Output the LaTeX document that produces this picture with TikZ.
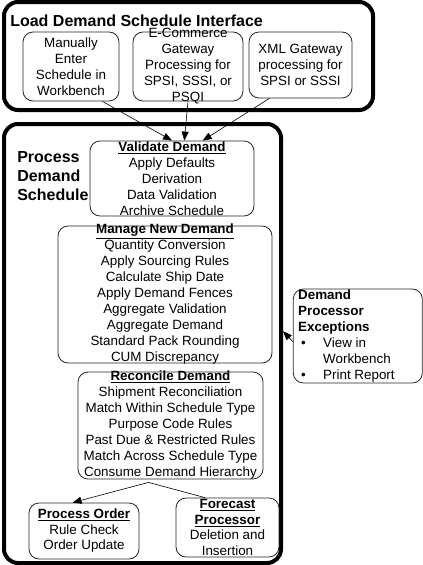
\documentclass[tikz,border=0pt]{standalone}
\usepackage{fontspec}
\setmainfont{Liberation Sans}
\usetikzlibrary{arrows.meta}

\begin{document}
\begin{tikzpicture}[
            > = {Triangle[length=9pt, width=7pt]}, % arrow head style
            x = 1pt, y = -1pt, % pixel grid, y grows downwards
            font = \fontsize{13.4}{16}\selectfont,
            semithick % line style
        ]

        \tikzstyle{panel}=[
            draw = black,
            line width = 4pt,
            rounded corners = 14pt
        ]
        \tikzstyle{task}=[
            draw = black!85,
            line width = 0.8pt,
            rounded corners = 10pt,
            inner sep = 0pt
        ]
        \tikzstyle{lines}=[align=center, inner sep=0pt]
        \tikzstyle{heading}=[font=\fontsize{16}{19}\selectfont\bfseries, inner sep=0pt]

        \useasboundingbox (0,0) rectangle (423,565);

        % load interface
        \node[panel, minimum width=369, minimum height=108] (load) at (188.5,56) {};
        \node[heading, anchor=base west] (loadtitle) at (10,26) {Load Demand Schedule Interface};

        \node[task, minimum width=96, minimum height=69,
            label={[lines]center:{Manually\\Enter\\Schedule in\\Workbench}}] (manual) at (71,66.5) {};
        \node[task, minimum width=110, minimum height=69,
            label={[lines]center:{E-Commerce\\Gateway\\Processing for\\SPSI, SSSI, or\\PSQI}}] (edi) at (188,66.5) {};
        \node[task, minimum width=103, minimum height=66,
            label={[lines]center:{XML Gateway\\processing for\\SPSI or SSSI}}] (xml) at (300.5,65) {};

        % process demand schedule
        \node[panel, minimum width=277, minimum height=439] (proc) at (142.5,343.5) {};
        \node[heading, anchor=base west, align=left] (proctitle) at (17,200) {Process\\Demand\\Schedule};

        \node[task, minimum width=164, minimum height=75,
            label={[lines]center:{\underline{\textbf{Validate Demand}}\\Apply Defaults\\Derivation\\Data Validation\\Archive Schedule}}] (validate) at (172,178.5) {};
        \node[task, minimum width=214, minimum height=137,
            label={[lines]center:{\underline{\textbf{Manage New Demand}}\\Quantity Conversion\\Apply Sourcing Rules\\Calculate Ship Date\\Apply Demand Fences\\Aggregate Validation\\Aggregate Demand\\Standard Pack Rounding\\CUM Discrepancy}}] (manage) at (165,294.5) {};
        \node[task, minimum width=185, minimum height=107,
            label={[lines]center:{\underline{\textbf{Reconcile Demand}}\\Shipment Reconciliation\\Match Within Schedule Type\\Purpose Code Rules\\Past Due \& Restricted Rules\\Match Across Schedule Type\\Consume Demand Hierarchy}}] (reconcile) at (170.5,425.5) {};
        \node[task, minimum width=110, minimum height=56,
            label={[lines, font=\fontsize{13.4}{15.5}\selectfont]center:{\underline{\textbf{Process Order}}\\Rule Check\\Order Update}}] (order) at (84,531) {};
        \node[task, minimum width=103, minimum height=59,
            label={[lines, font=\fontsize{13.4}{15.6}\selectfont]center:{\underline{\textbf{Forecast}}\\\underline{\textbf{Processor}}\\Deletion and\\Insertion}}] (forecast) at (227.5,527.5) {};

        % exceptions
        \node[task, minimum width=129, minimum height=94,
            label={[lines, align=left, anchor=west, xshift=5pt]west:{\textbf{Demand}\\\textbf{Processor}\\\textbf{Exceptions}\\\makebox[25pt][l]{\hspace{3pt}\textbullet}View in\\\hspace*{25pt}Workbench\\\makebox[25pt][l]{\hspace{3pt}\textbullet}Print Report}}] (except) at (357.8,336) {};

        \draw[->] (manual.-48) -- (validate.north);
        \draw[->] (edi.south) -- (validate.72);
        \draw[->] (xml.-133) -- (validate.51);
        \draw[->] (except.185) -- (proc.5);

        \coordinate (split) at ([xshift=-22pt, yshift=-3pt]reconcile.south);
        \draw[->] (split) -- (order.112);
        \draw (split) -- (forecast.127);
    \end{tikzpicture}
\end{document}
